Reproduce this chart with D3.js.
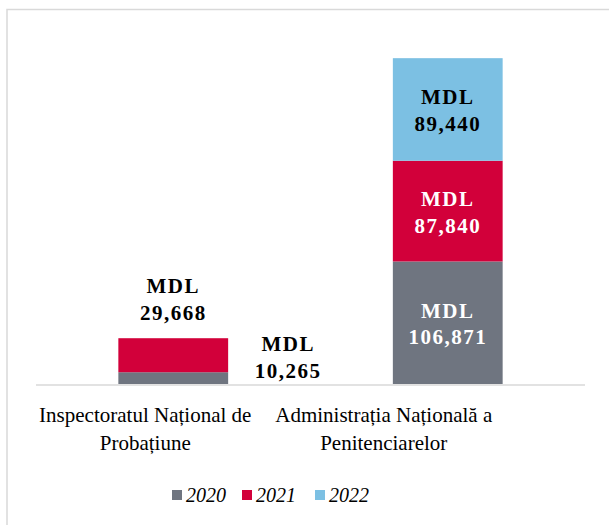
<!DOCTYPE html>
<html>
<head>
<meta charset="utf-8">
<script src="https://cdn.jsdelivr.net/npm/d3@7"></script>
<style>
  html, body { margin: 0; padding: 0; background: #fff; }
  svg { display: block; }
  text { font-family: "Liberation Serif", "DejaVu Serif", "Noto Serif", "Times New Roman", serif; }
</style>
</head>
<body>
<svg id="chart" width="609" height="525"></svg>
<script>
// ---- data ----
const categories = ["Inspectoratul Național de Probațiune", "Administrația Națională a Penitenciarelor"];
const categoryLines = [["Inspectoratul Național de", "Probațiune"], ["Administrația Națională a", "Penitenciarelor"]];
const years = ["2020", "2021", "2022"];
const values2020 = [10265, 106871];
const values2021 = [29668, 87840];
const values2022 = [0, 89440];

// ---- styles ----
const colors = { "2020": "#6f7580", "2021": "#d2003a", "2022": "#7cc0e3" };
const labelColors = { "2020": "#ffffff", "2021": "#ffffff", "2022": "#000000" };

const svg = d3.select("#chart");

// chart frame
svg.append("rect")
  .attr("x", 7).attr("y", 9.5).attr("width", 640).attr("height", 560)
  .attr("fill", "none").attr("stroke", "#d9d9d9").attr("stroke-width", 1.5);

const x = d3.scaleBand().domain(categories).range([36, 585]).paddingInner(0.6).paddingOuter(0.3);
const y = d3.scaleLinear().domain([0, 300000]).range([384, 40]);

const rows = categories.map((c, i) => ({ cat: c, "2020": values2020[i], "2021": values2021[i], "2022": values2022[i] }));
const stacked = d3.stack().keys(years)(rows);

// bars
stacked.forEach(layer => {
  svg.append("g").selectAll("rect").data(layer).join("rect")
    .attr("x", d => x(d.data.cat))
    .attr("width", x.bandwidth())
    .attr("y", d => y(d[1]))
    .attr("height", d => Math.max(0, y(d[0]) - y(d[1])))
    .attr("fill", colors[layer.key]);
});

// axis line
svg.append("line")
  .attr("x1", 36).attr("x2", 585).attr("y1", 385).attr("y2", 385)
  .attr("stroke", "#d9d9d9").attr("stroke-width", 1.5);

// data labels
const fmt = d3.format(",");
function label(cx, yb, val, color) {
  const t = svg.append("text")
    .attr("text-anchor", "middle")
    .attr("font-weight", "bold").attr("font-size", 21)
    .attr("letter-spacing", "1.5px")
    .attr("fill", color);
  t.append("tspan").attr("x", cx).attr("y", yb).text("MDL");
  t.append("tspan").attr("x", cx).attr("y", yb + 26.5).text(fmt(val));
}

stacked.forEach(layer => {
  layer.forEach((d, i) => {
    const v = d[1] - d[0];
    if (!v) return;
    const cx = x(d.data.cat) + x.bandwidth() / 2;
    const mid = (y(d[0]) + y(d[1])) / 2;
    if (i === 1) {
      label(cx, mid - 5, v, labelColors[layer.key]);
    } else if (layer.key === "2020") {
      label(x(d.data.cat) + x.bandwidth() + 60, mid - 27, v, "#000");
    } else {
      label(cx, y(d[1]) - 45, v, "#000");
    }
  });
});

// category labels
const catOffsets = [-28, -64];
categories.forEach((c, i) => {
  const cx = x(c) + x.bandwidth() / 2 + catOffsets[i];
  const t = svg.append("text")
    .attr("text-anchor", "middle")
    .attr("font-size", 21).attr("fill", "#000");
  categoryLines[i].forEach((ln, j) => {
    t.append("tspan").attr("x", cx).attr("y", 421.5 + j * 28.5).text(ln);
  });
});

// legend
const legendX = [172, 242, 315];
years.forEach((yr, i) => {
  const g = svg.append("g").attr("transform", `translate(${legendX[i]},490)`);
  g.append("rect").attr("width", 10).attr("height", 10).attr("fill", colors[yr]);
  g.append("text").attr("x", 14).attr("y", 11.5)
    .attr("font-style", "italic").attr("font-size", 20)
    .attr("fill", "#000").text(yr);
});
</script>
</body>
</html>
